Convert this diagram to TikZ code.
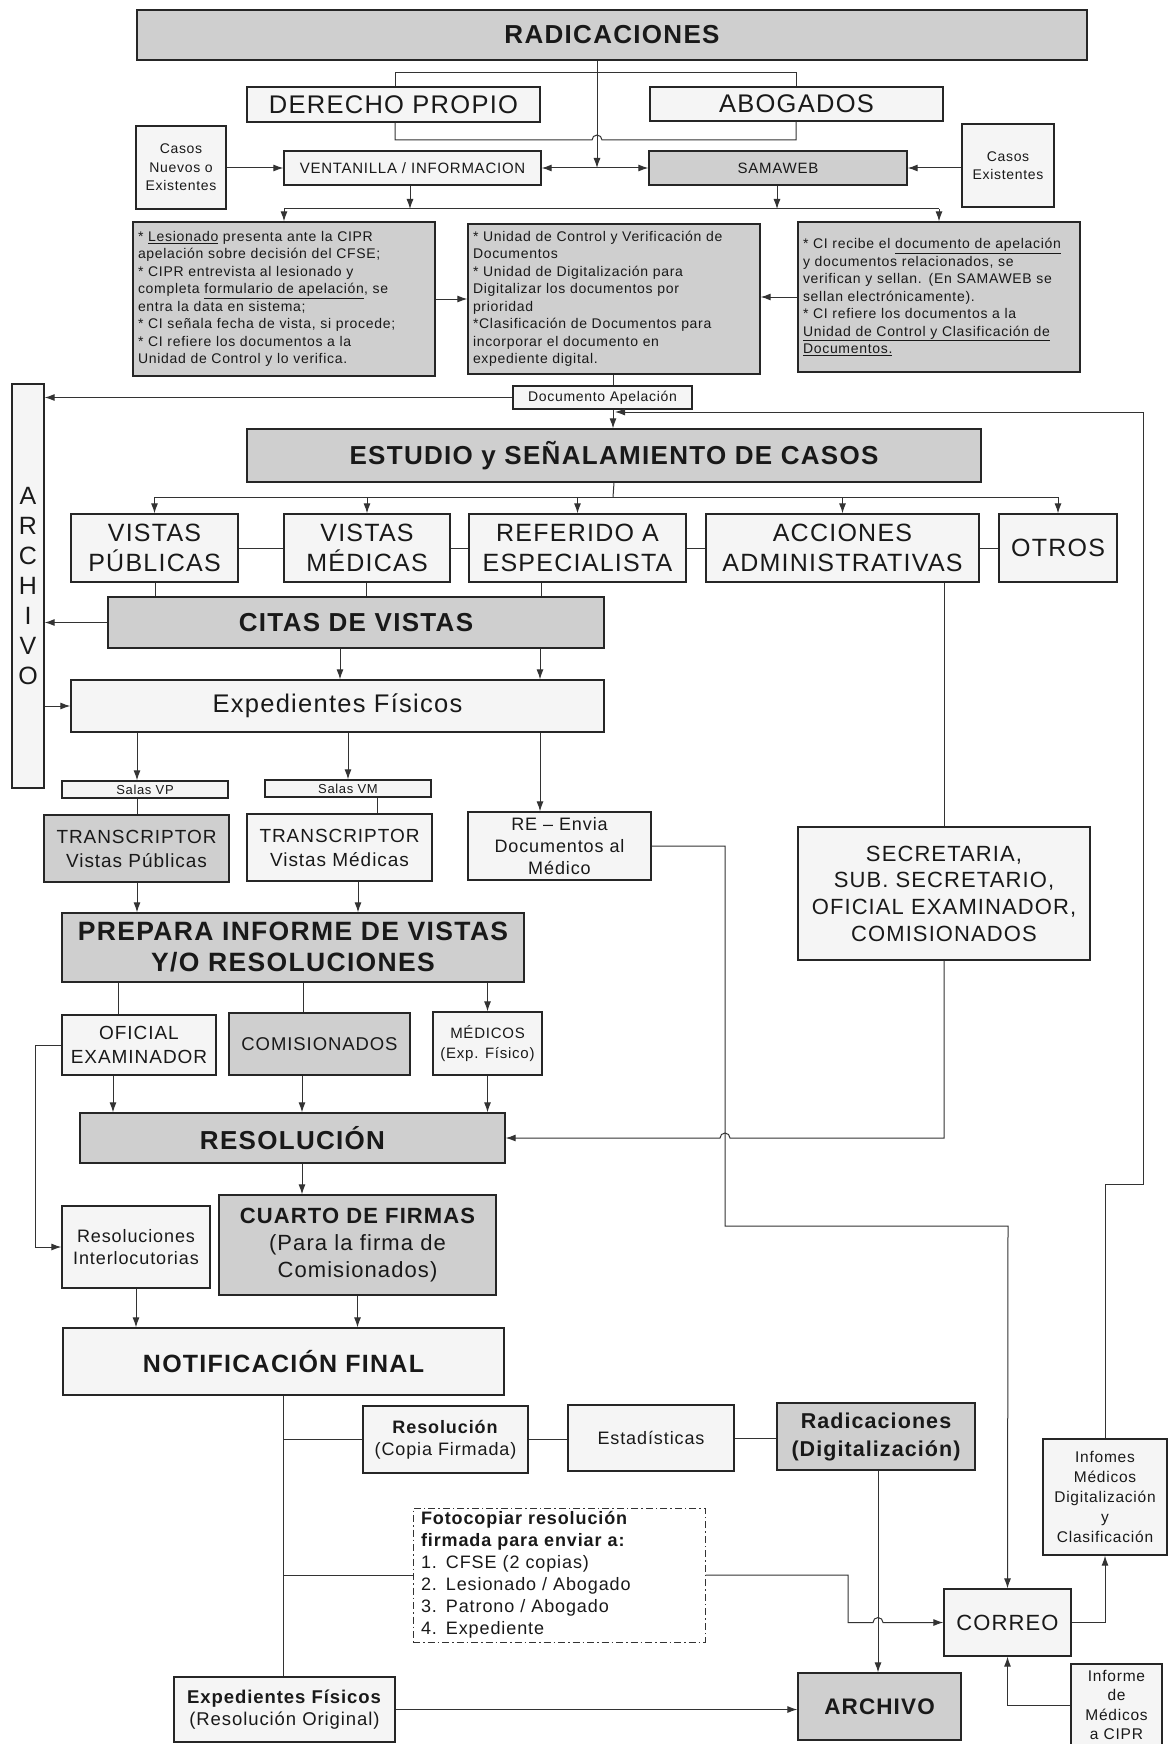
\documentclass[tikz,border=0pt]{standalone}
\usepackage{fontspec}
\setmainfont{Liberation Sans}[LetterSpace=5]
\usetikzlibrary{arrows.meta,calc}
\newcommand\fsz[2]{\fontsize{#1}{#2}\selectfont}
\newcommand\bxn[7]{%
  \pgfmathsetmacro\bxw{#4-#2}\pgfmathsetmacro\bxh{#5-#3}%
  \pgfmathsetmacro\bxcx{(#2+#4)/2}\pgfmathsetmacro\bxcy{(#3+#5)/2}%
  \node[#6, minimum width=\bxw pt, minimum height=\bxh pt] (#1) at (\bxcx,\bxcy) {#7};}
\tikzset{
  x=1pt, y=-1pt,
  gbox/.style={draw=black!85, line width=1.3pt, fill=black!19, inner sep=0pt, align=center, text=black!90},
  wbox/.style={draw=black!85, line width=1.3pt, fill=black!4, inner sep=0pt, align=center, text=black!90},
  fbox/.style={draw=black!80, line width=1pt, dash pattern=on 7pt off 3pt on 1.5pt off 3pt, fill=white, inner sep=0pt, text=black!90},
  tbox/.style={align=left, inner xsep=5pt, inner ysep=0pt, text width=#1, font=\fsz{14}{17.5}},
  rowf/.style={font=\fsz{25}{30}},
  ln/.style={draw=black!80, line width=1pt},
  arr/.style={ln, -{Latex[length=10pt,width=7pt]}},
  arr2/.style={ln, {Latex[length=10pt,width=7pt]}-{Latex[length=10pt,width=7pt]}},
}
\begin{document}
\begin{tikzpicture}
\fill[white] (0,0) rectangle (1172,1744);
\useasboundingbox (0,0) rectangle (1172,1744);

% ---------- top ----------
\bxn{rad}{137}{10}{1087}{60}{gbox,font=\fsz{26}{30}\bfseries}{RADICACIONES}
\bxn{dp}{247}{87}{540}{122}{wbox,font=\fsz{25.5}{30}}{DERECHO PROPIO}
\bxn{ab}{650}{87}{943}{121}{wbox,font=\fsz{25.5}{30}}{ABOGADOS}
\bxn{cn}{136}{126}{226}{209}{wbox,font=\fsz{14}{18.5}}{Casos\\Nuevos o\\Existentes}
\bxn{vent}{284}{151}{541}{185}{wbox,font=\fsz{15}{18}}{VENTANILLA / INFORMACION}
\bxn{sam}{649}{151}{907}{185}{gbox,font=\fsz{15}{18}}{SAMAWEB}
\bxn{ce}{962}{124}{1054}{207}{wbox,font=\fsz{14}{18.5}}{Casos\\Existentes}

\bxn{tl}{133}{222}{435}{376}{gbox,tbox=292pt}{* \underline{Lesionado} presenta ante la CIPR\\apelación sobre decisión del CFSE;\\{}* CIPR entrevista al lesionado y\\completa \underline{formulario de apelación}, se\\entra la data en sistema;\\{}* CI señala fecha de vista, si procede;\\{}* CI refiere los documentos a la\\Unidad de Control y lo verifica.}
\bxn{tm}{468}{224}{760}{374}{gbox,tbox=282pt}{* Unidad de Control y Verificación de\\Documentos\\{}* Unidad de Digitalización para\\Digitalizar los documentos por\\prioridad\\{}*Clasificación de Documentos para\\incorporar el documento en\\expediente digital.}
\bxn{tr}{798}{222}{1080}{372}{gbox,tbox=272pt}{* CI recibe el \underline{documento de apelación}\\y documentos relacionados, se\\verifican y sellan. (En SAMAWEB se\\sellan electrónicamente).\\{}* CI refiere los documentos a la\\\underline{Unidad de Control y Clasificación de}\\\underline{Documentos.}}

\bxn{docap}{513}{386}{692}{409}{wbox,font=\fsz{14}{16}}{Documento Apelación}
\bxn{arch}{12}{384}{44}{788}{wbox,font=\fsz{25}{30}}{A\\R\\C\\H\\I\\V\\O}

% ---------- middle ----------
\bxn{est}{247}{429}{981}{482}{gbox,font=\fsz{26}{30}\bfseries}{ESTUDIO y SEÑALAMIENTO DE CASOS}
\bxn{vp}{71}{514}{238}{582}{wbox,rowf}{VISTAS\\PÚBLICAS}
\bxn{vm}{284}{514}{450}{582}{wbox,rowf}{VISTAS\\MÉDICAS}
\bxn{ref}{469}{514}{686}{582}{wbox,rowf}{REFERIDO A\\ESPECIALISTA}
\bxn{acc}{706}{514}{979}{582}{wbox,rowf}{ACCIONES\\ADMINISTRATIVAS}
\bxn{otr}{999}{514}{1117}{582}{wbox,rowf}{OTROS}
\bxn{cit}{108}{597}{604}{648}{gbox,font=\fsz{26}{30}\bfseries}{CITAS DE VISTAS}
\bxn{exp}{71}{680}{604}{732}{wbox,font=\fsz{25.5}{30}}{Expedientes Físicos}
\bxn{salvp}{62}{781}{228}{798}{wbox,font=\fsz{13}{14}}{Salas VP}
\bxn{salvm}{265}{780}{431}{797}{wbox,font=\fsz{13}{14}}{Salas VM}
\bxn{tvp}{44}{815}{229}{882}{gbox,font=\fsz{19}{24}}{TRANSCRIPTOR\\Vistas Públicas}
\bxn{tvm}{247}{814}{432}{881}{wbox,font=\fsz{19}{24}}{TRANSCRIPTOR\\Vistas Médicas}
\bxn{re}{468}{812}{651}{880}{wbox,font=\fsz{18}{22}}{RE – Envia\\Documentos al\\Médico}
\bxn{sec}{798}{827}{1090}{960}{wbox,font=\fsz{22}{26.7}}{SECRETARIA,\\SUB. SECRETARIO,\\OFICIAL EXAMINADOR,\\COMISIONADOS}
\bxn{prep}{62}{913}{524}{982}{gbox,font=\fsz{26.5}{31}\bfseries}{PREPARA INFORME DE VISTAS\\Y/O RESOLUCIONES}
\bxn{ofi}{62}{1015}{216}{1075}{wbox,font=\fsz{19}{24}}{OFICIAL\\EXAMINADOR}
\bxn{com}{229}{1013}{410}{1075}{gbox,font=\fsz{18.5}{22}}{COMISIONADOS}
\bxn{med}{433}{1012}{542}{1075}{wbox,font=\fsz{15}{20}}{MÉDICOS\\(Exp. Físico)}
\bxn{res}{80}{1113}{505}{1163}{gbox,font=\fsz{26}{30}\bfseries}{RESOLUCIÓN}
\bxn{resint}{62}{1206}{210}{1288}{wbox,font=\fsz{18}{22}}{Resoluciones\\Interlocutorias}
\bxn{cuarto}{219}{1195}{496}{1295}{gbox,font=\fsz{22}{27}}{{\fsz{22}{27}\bfseries CUARTO DE FIRMAS}\\(Para la firma de\\Comisionados)}
\bxn{notif}{63}{1328}{504}{1395}{wbox,font=\fsz{25}{30}\bfseries}{NOTIFICACIÓN FINAL}

% ---------- bottom ----------
\bxn{rescopia}{363}{1406}{528}{1473}{wbox,font=\fsz{18}{22}}{\textbf{Resolución}\\(Copia Firmada)}
\bxn{estad}{568}{1405}{734}{1471}{wbox,font=\fsz{18}{22}}{Estadísticas}
\bxn{radig}{777}{1403}{975}{1470}{gbox,font=\fsz{21.5}{28}\bfseries}{Radicaciones\\(Digitalización)}
\bxn{foto}{413}{1508}{705}{1642}{fbox,align=left,inner xsep=8pt,text width=276pt,font=\fsz{18}{22}}{\textbf{Fotocopiar resolución}\\\textbf{firmada para enviar a:}\\1. CFSE (2 copias)\\2. Lesionado / Abogado\\3. Patrono / Abogado\\4. Expediente}
\bxn{inf}{1043}{1439}{1167}{1555}{wbox,font=\fsz{15.5}{20}}{Infomes\\Médicos\\Digitalización\\y\\Clasificación}
\bxn{correo}{944}{1589}{1071}{1656}{wbox,font=\fsz{22}{26}}{CORREO}
\bxn{cipr}{1071}{1664}{1162}{1746}{wbox,font=\fsz{15.5}{19.5}}{Informe\\de\\Médicos\\a CIPR}
\bxn{archivo2}{798}{1673}{961}{1740}{gbox,font=\fsz{22.5}{26}\bfseries}{ARCHIVO}
\bxn{expres}{174}{1677}{395}{1742}{wbox,font=\fsz{18.5}{22}}{\textbf{Expedientes Físicos}\\(Resolución Original)}

\coordinate (busL) at (284,209);
\coordinate (busR) at (939,209);
\coordinate (jE) at (615,412);

% ---------- connectors: top ----------
\draw[ln] (395,0 |- dp.north) -- (395,73) -- (796,73) -- (796,0 |- ab.north);
\draw[ln] (395,0 |- dp.south) -- (395,140) -- (592,140) arc[start angle=180,end angle=0,radius=5pt] -- (796,140) -- (796,0 |- ab.south);
\draw[arr] (597,0 |- rad.south) -- (597,0 |- vent.east);
\draw[arr] (cn.east |- vent.west) -- (vent.west);
\draw[arr] (ce.west |- sam.east) -- (sam.east);
\draw[arr2] (vent.east) -- (sam.west);
\draw[arr] (410,0 |- vent.south) -- (410,0 |- busL);
\draw[arr] (777,0 |- sam.south) -- (777,0 |- busL);
\draw[ln] (busL) -- (busR);
\draw[arr] (busL) -- (busL |- tl.north);
\draw[arr] (busR) -- (busR |- tr.north);
\draw[arr] (tl.east) -- (tl.east -| tm.west);
\draw[arr] (tr.west) -- (tr.west -| tm.east);
\draw[ln] (613,0 |- tm.south) -- (613,0 |- docap.north);
\draw[arr] (docap.west) -- (docap.west -| arch.east);
\draw[arr] (613,0 |- docap.south) -- (613,0 |- est.north);
\draw[arr] (inf.north) -- (inf.north |- 0,1184) -- (1143,1184) -- (1143,412) -- (jE);

% ---------- connectors: middle ----------
\draw[ln] (est.south) -- (613,497);
\draw[ln] (vp.north |- 0,497) -- (otr.north |- 0,497);
\foreach \n in {vp,vm,ref,acc,otr} \draw[arr] (\n.north |- 0,497) -- (\n.north);
\draw[ln] (vp.east) -- (vm.west);
\draw[ln] (vm.east) -- (ref.west);
\draw[ln] (ref.east) -- (acc.west);
\draw[ln] (acc.east) -- (otr.west);
\draw[ln] (155,0 |- vp.south) -- (155,0 |- cit.north);
\draw[ln] (366,0 |- vm.south) -- (366,0 |- cit.north);
\draw[ln] (541,0 |- ref.south) -- (541,0 |- cit.north);
\draw[arr] (cit.west) -- (cit.west -| arch.east);
\draw[arr] (340,0 |- cit.south) -- (340,0 |- exp.north);
\draw[arr] (540,0 |- cit.south) -- (540,0 |- exp.north);
\draw[arr] (arch.east |- exp.west) -- (exp.west);
\draw[arr] (137,0 |- exp.south) -- (137,0 |- salvp.north);
\draw[arr] (348,0 |- exp.south) -- (348,0 |- salvm.north);
\draw[arr] (540,0 |- exp.south) -- (540,0 |- re.north);
\draw[ln] (137,0 |- salvp.south) -- (137,0 |- tvp.north);
\draw[ln] (377,0 |- salvm.south) -- (377,0 |- tvm.north);
\draw[arr] (137,0 |- tvp.south) -- (137,0 |- prep.north);
\draw[arr] (358,0 |- tvm.south) -- (358,0 |- prep.north);
\draw[ln] (944,0 |- acc.south) -- (944,0 |- sec.north);
\draw[arr] (re.east) -- (725,0 |- re.east) -- (725,1226) -- (1008,1226) -- (correo.north);
\draw[arr] (sec.south) -- (sec.south |- res.east) -- (730,0 |- res.east) arc[start angle=0,end angle=180,radius=5pt] -- (res.east);
\draw[ln] (118,0 |- prep.south) -- (118,0 |- ofi.north);
\draw[ln] (303,0 |- prep.south) -- (303,0 |- com.north);
\draw[arr] (med.north |- prep.south) -- (med.north);
\draw[arr] (113,0 |- ofi.south) -- (113,0 |- res.north);
\draw[arr] (302,0 |- com.south) -- (302,0 |- res.north);
\draw[arr] (med.south) -- (med.south |- res.north);
\draw[arr] (ofi.west) -- (35,0 |- ofi.west) -- (35,0 |- resint.west) -- (resint.west);
\draw[arr] (302,0 |- res.south) -- (302,0 |- cuarto.north);
\draw[arr] (resint.south) -- (resint.south |- notif.north);
\draw[arr] (cuarto.south) -- (cuarto.south |- notif.north);

% ---------- connectors: bottom ----------
\draw[ln] (notif.south) -- (notif.south |- expres.north);
\draw[ln] (notif.south |- rescopia.west) -- (rescopia.west);
\draw[ln] (notif.south |- foto.west) -- (foto.west);
\draw[ln] (rescopia.east) -- (rescopia.east -| estad.west);
\draw[ln] (estad.east) -- (estad.east -| radig.west);
\draw[arr] (878,0 |- radig.south) -- (878,0 |- archivo2.north);
\draw[arr] (foto.east) -- (848,0 |- foto.east) -- (848,0 |- correo.west) -- (873,0 |- correo.west) arc[start angle=180,end angle=0,radius=5pt] -- (correo.west);
\draw[arr] (correo.east) -- (inf.south |- correo.east) -- (inf.south);
\draw[arr] (cipr.west) -- (correo.south |- cipr.west) -- (correo.south);
\draw[arr] (expres.east) -- (expres.east -| archivo2.west);
\end{tikzpicture}
\end{document}
